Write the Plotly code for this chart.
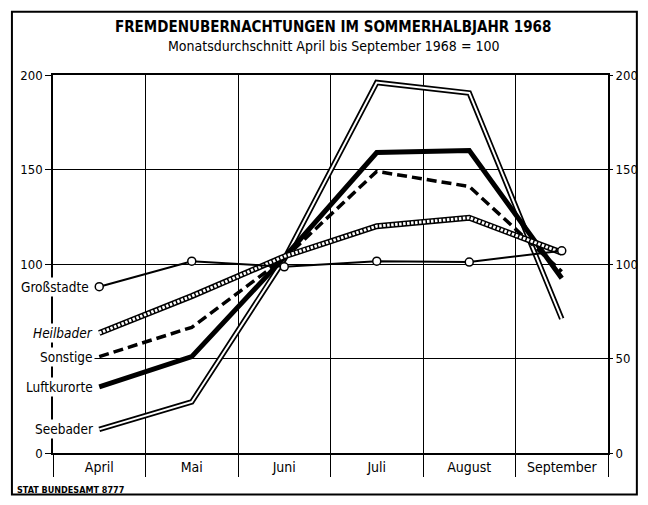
import plotly.graph_objects as go

# Werte (Monatsdurchschnitt April-September 1968 = 100)
months = ['April', 'Mai', 'Juni', 'Juli', 'August', 'September']
grossstaedte = [88, 101.5, 98.5, 101.5, 101, 107]
heilbaeder = [63.5, 83, 104, 120, 124.5, 106]
sonstige = [51, 66.5, 103, 149, 141, 96]
luftkurorte = [35, 51, 103.5, 159, 160, 92.5]
seebaeder = [12.5, 27, 102.5, 196, 190.5, 71]
y_ticks = [0, 50, 100, 150, 200]
# links wird die 50 vom Schriftzug "Sonstige" verdeckt
y_ticktext_left = ['0', '', '100', '150', '200']

x = list(range(len(months)))
FONT = 'Liberation Sans Narrow, DejaVu Sans Condensed, Arial Narrow, sans-serif'

fig = go.Figure()

# Seebäder: Doppellinie
fig.add_trace(go.Scatter(x=x, y=seebaeder, mode='lines',
                         line=dict(color='black', width=5.5), hoverinfo='skip'))
fig.add_trace(go.Scatter(x=x, y=seebaeder, mode='lines',
                         line=dict(color='white', width=2), hoverinfo='skip'))

# Luftkurorte: dicke Linie
fig.add_trace(go.Scatter(x=x, y=luftkurorte, mode='lines',
                         line=dict(color='black', width=5), hoverinfo='skip'))

# Sonstige: gestrichelt
fig.add_trace(go.Scatter(x=x, y=sonstige, mode='lines',
                         line=dict(color='black', width=3.5, dash='10px,5px'), hoverinfo='skip'))

# Heilbäder: Kettenlinie
fig.add_trace(go.Scatter(x=x, y=heilbaeder, mode='lines',
                         line=dict(color='black', width=6), hoverinfo='skip'))
fig.add_trace(go.Scatter(x=x, y=heilbaeder, mode='lines',
                         line=dict(color='white', width=3, dash='2.5px,1.5px'), hoverinfo='skip'))

# Großstädte: dünne Linie mit Kreisen
fig.add_trace(go.Scatter(x=x, y=grossstaedte, mode='lines+markers',
                         line=dict(color='black', width=2),
                         marker=dict(symbol='circle', size=8, color='white',
                                     line=dict(color='black', width=1.5)),
                         hoverinfo='skip'))

# unsichtbare Spur, damit die rechte Achse gezeichnet wird
fig.add_trace(go.Scatter(x=x, y=grossstaedte, yaxis='y2', mode='lines',
                         line=dict(width=0), opacity=0, hoverinfo='skip'))

labels = [
    ('Großstadte', grossstaedte[0], -8),
    ('<i>Heilbader</i>', heilbaeder[0], -4),
    ('Sonstige', sonstige[0], -4),
    ('Luftkurorte', luftkurorte[0], -4),
    ('Seebader', seebaeder[0], -4),
]
for text, yv, shift in labels:
    fig.add_annotation(x=x[0], y=yv, text=text, showarrow=False, xanchor='right',
                       xshift=shift, bgcolor='white', borderpad=1,
                       font=dict(family=FONT, size=13.5, color='black'))

fig.add_annotation(xref='paper', yref='paper', x=0.505, y=1.127, yanchor='middle',
                   text='<b>FREMDENUBERNACHTUNGEN IM SOMMERHALBJAHR 1968</b>',
                   showarrow=False, font=dict(family=FONT, size=15, color='black'))
fig.add_annotation(xref='paper', yref='paper', x=0.505, y=1.077, yanchor='middle',
                   text='Monatsdurchschnitt April bis September 1968 = 100',
                   showarrow=False, font=dict(family=FONT, size=14, color='black'))
fig.add_annotation(xref='paper', yref='paper', x=-0.068, y=-0.098, xanchor='left',
                   yanchor='middle', text='<b>STAT BUNDESAMT 8777</b>',
                   showarrow=False, font=dict(family=FONT, size=9, color='black'))

# Rahmen
fig.add_shape(type='rect', xref='paper', yref='paper', x0=-0.074, x1=1.052,
              y0=-0.11, y1=1.167, line=dict(color='black', width=2))

fig.update_layout(
    width=632, height=489,
    margin=dict(l=45, r=32, t=67, b=44, autoexpand=False),
    paper_bgcolor='white', plot_bgcolor='white',
    showlegend=False,
    font=dict(family=FONT, color='black'),
    xaxis=dict(range=[-0.5, 5.5], tickvals=x, ticktext=months, ticks='',
               automargin=False, showgrid=False, zeroline=False,
               showline=True, mirror=True, linecolor='black', linewidth=1.5,
               tickfont=dict(family=FONT, size=14),
               minor=dict(tick0=0.5, dtick=1, ticks='outside', ticklen=22,
                          tickcolor='black', tickwidth=1.2,
                          showgrid=True, gridcolor='black', gridwidth=1.2)),
    yaxis=dict(range=[0, 200], tickvals=y_ticks, ticktext=y_ticktext_left,
               ticks='outside', ticklen=6, automargin=False,
               tickcolor='black', showgrid=True, gridcolor='black', gridwidth=1.2,
               zeroline=False, showline=True, mirror=True, linecolor='black',
               linewidth=1.5, tickfont=dict(family=FONT, size=13)),
    yaxis2=dict(range=[0, 200], tickvals=y_ticks, overlaying='y', side='right',
                ticks='outside', ticklen=4, tickcolor='black', showgrid=False,
                automargin=False, zeroline=False, showline=False,
                tickfont=dict(family=FONT, size=13)),
)

fig.write_html('out.html')
